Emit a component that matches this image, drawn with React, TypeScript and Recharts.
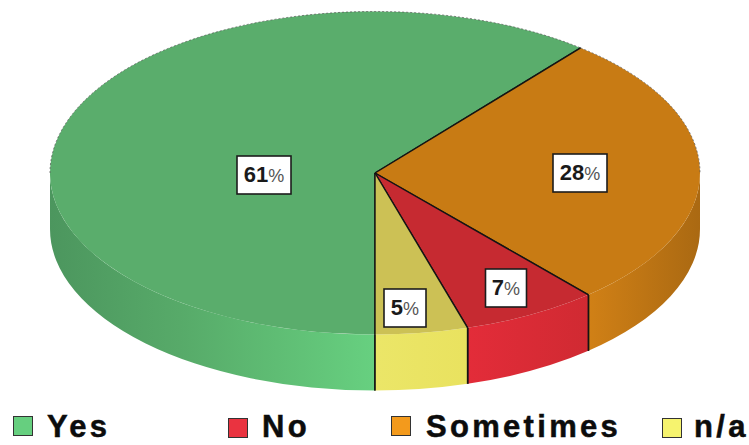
import { PieChart, Pie, Legend } from "recharts";

// slices, clockwise from the bottom of the pie
const sliceNames = ["Yes", "Sometimes", "No", "n/a"];
const sliceShares = [60.9, 27.7, 6.8, 4.6];
const topColors = ["#5aad6c", "#c87b14", "#c62a31", "#ccc155"];
const sideColors = ["url(#sideYes)", "url(#sideSometimes)", "url(#sideNo)", "url(#sideNa)"];

// box centres relative to the pie centre, the chart placed them by hand
const labelDx = [-111, 205, 131, 30];
const labelDy = [2, 0, 115, 135];
const labelWidths = [54, 54, 41, 42];

const legendNames = ["Yes", "No", "Sometimes", "n/a"];
const legendColors = ["#66cf7f", "#ea3340", "#f39a1c", "#f6f36e"];
const legendSwatchX = [13, 228, 391, 662];
const legendSwatchY = [11, 13, 11, 13];
const legendTextX = [47, 262, 426, 694];

const tableData = sliceNames.map((name, i) => ({
  name,
  value: sliceShares[i],
  top: topColors[i],
  side: sideColors[i],
}));

const TILT = 0.497;
const DEPTH = 56;
const RAD = Math.PI / 180;

function PieSlice(props: any) {
  const { cx, cy, outerRadius, startAngle, endAngle, top, side } = props;
  const rx = outerRadius;
  const ry = outerRadius * TILT;
  const px = (a: number) => cx + rx * Math.cos(a * RAD);
  const py = (a: number) => cy - ry * Math.sin(a * RAD);
  const arc = (a: number, b: number, dy = 0) =>
    `A ${rx} ${ry} 0 ${a - b > 180 ? 1 : 0} 1 ${px(b)} ${py(b) + dy}`;

  const topPath = `M ${cx} ${cy} L ${px(startAngle)} ${py(startAngle)} ${arc(startAngle, endAngle)} Z`;

  // wall only where the slice faces the viewer
  const walls: [number, number][] = [];
  [[360, 180], [0, -180]].forEach(([hi, lo]) => {
    const a = Math.min(startAngle, hi);
    const b = Math.max(endAngle, lo);
    if (a > b) walls.push([a, b]);
  });
  // back rim, dotted in the original
  const rims: [number, number][] = [];
  [[180, 0]].forEach(([hi, lo]) => {
    const a = Math.min(startAngle, hi);
    const b = Math.max(endAngle, lo);
    if (a > b) rims.push([a, b]);
  });

  const isFront = (a: number) => Math.sin(a * RAD) < -0.01;

  return (
    <g>
      {walls.map(([a, b], i) => (
        <path
          key={i}
          fill={side}
          d={`M ${px(a)} ${py(a)} ${arc(a, b)} L ${px(b)} ${py(b) + DEPTH} A ${rx} ${ry} 0 ${
            a - b > 180 ? 1 : 0
          } 0 ${px(a)} ${py(a) + DEPTH} Z`}
        />
      ))}
      <path d={topPath} fill={top} />
      {rims.map(([a, b], i) => (
        <path
          key={i}
          d={`M ${px(a)} ${py(a)} ${arc(a, b)}`}
          fill="none"
          stroke="#555"
          strokeWidth={1}
          strokeDasharray="2 2"
          strokeOpacity={0.7}
        />
      ))}
      {[startAngle, endAngle].map((a: number, i: number) => (
        <g key={i}>
          <line x1={cx} y1={cy} x2={px(a)} y2={py(a)} stroke="#141414" strokeWidth={1.4} />
          {isFront(a) && (
            <line x1={px(a)} y1={py(a)} x2={px(a)} y2={py(a) + DEPTH} stroke="#141414" strokeWidth={1.6} />
          )}
        </g>
      ))}
    </g>
  );
}

function PercentBox(props: any) {
  const { cx, cy, value, index } = props;
  const x = cx + labelDx[index];
  const y = cy + labelDy[index];
  const w = labelWidths[index];
  return (
    <g>
      <rect x={x - w / 2} y={y - 19} width={w} height={38} fill="#fff" stroke="#1c1c1c" strokeWidth={1.6} />
      <text x={x} y={y + 7} textAnchor="middle" fontFamily="Liberation Sans" fontSize={22} fontWeight="bold" fill="#1a1a1a">
        {Math.round(value)}
        <tspan fontSize={18} fontWeight="normal" fill="#555">%</tspan>
      </text>
    </g>
  );
}

function BottomLegend() {
  return (
    <div style={{ position: "relative", width: 749, height: 40 }}>
      {legendNames.map((name, i) => (
        <div key={name}>
          <div
            style={{
              position: "absolute",
              left: legendSwatchX[i],
              top: legendSwatchY[i],
              width: 20,
              height: 20,
              background: legendColors[i],
              border: "1.5px solid #333",
              boxSizing: "border-box",
            }}
          />
          <span
            style={{
              position: "absolute",
              left: legendTextX[i],
              top: 4,
              fontFamily: "Liberation Sans",
              fontWeight: "bold",
              fontSize: 31,
              letterSpacing: 3.3,
              lineHeight: "36px",
              color: "#0c0c0c",
              WebkitTextStroke: "0.5px #0c0c0c",
              whiteSpace: "nowrap",
            }}
          >
            {name}
          </span>
        </div>
      ))}
    </div>
  );
}

export default function App() {
  return (
    <div style={{ position: "absolute", left: 0, top: 0, width: 749, height: 445, background: "#fff" }}>
      <PieChart width={749} height={445} margin={{ top: 0, right: 0, bottom: 0, left: 0 }}>
        <defs>
          <linearGradient id="sideYes" gradientUnits="userSpaceOnUse" x1={50} x2={375} y1={0} y2={0}>
            <stop offset="0" stopColor="#4c965e" />
            <stop offset="0.4" stopColor="#57aa69" />
            <stop offset="0.7" stopColor="#5fbd74" />
            <stop offset="1" stopColor="#67d080" />
          </linearGradient>
          <linearGradient id="sideSometimes" gradientUnits="userSpaceOnUse" x1={590} x2={700} y1={0} y2={0}>
            <stop offset="0" stopColor="#d08016" />
            <stop offset="1" stopColor="#aa6912" />
          </linearGradient>
          <linearGradient id="sideNo" gradientUnits="userSpaceOnUse" x1={467} x2={590} y1={0} y2={0}>
            <stop offset="0" stopColor="#e32c39" />
            <stop offset="1" stopColor="#d02a32" />
          </linearGradient>
          <linearGradient id="sideNa" gradientUnits="userSpaceOnUse" x1={375} x2={467} y1={0} y2={0}>
            <stop offset="0" stopColor="#ebe668" />
            <stop offset="1" stopColor="#e9e25f" />
          </linearGradient>
        </defs>
        <Pie
          data={tableData}
          dataKey="value"
          nameKey="name"
          cx={375}
          cy={173}
          innerRadius={0}
          outerRadius={325}
          startAngle={270}
          endAngle={-90}
          paddingAngle={0}
          stroke="none"
          shape={PieSlice}
          label={PercentBox}
          labelLine={false}
          isAnimationActive={false}
        />
        <Legend
          content={() => <BottomLegend />}
          layout="horizontal"
          verticalAlign="bottom"
          wrapperStyle={{ left: 0, bottom: 0, width: 749, height: 40 }}
        />
      </PieChart>
    </div>
  );
}
